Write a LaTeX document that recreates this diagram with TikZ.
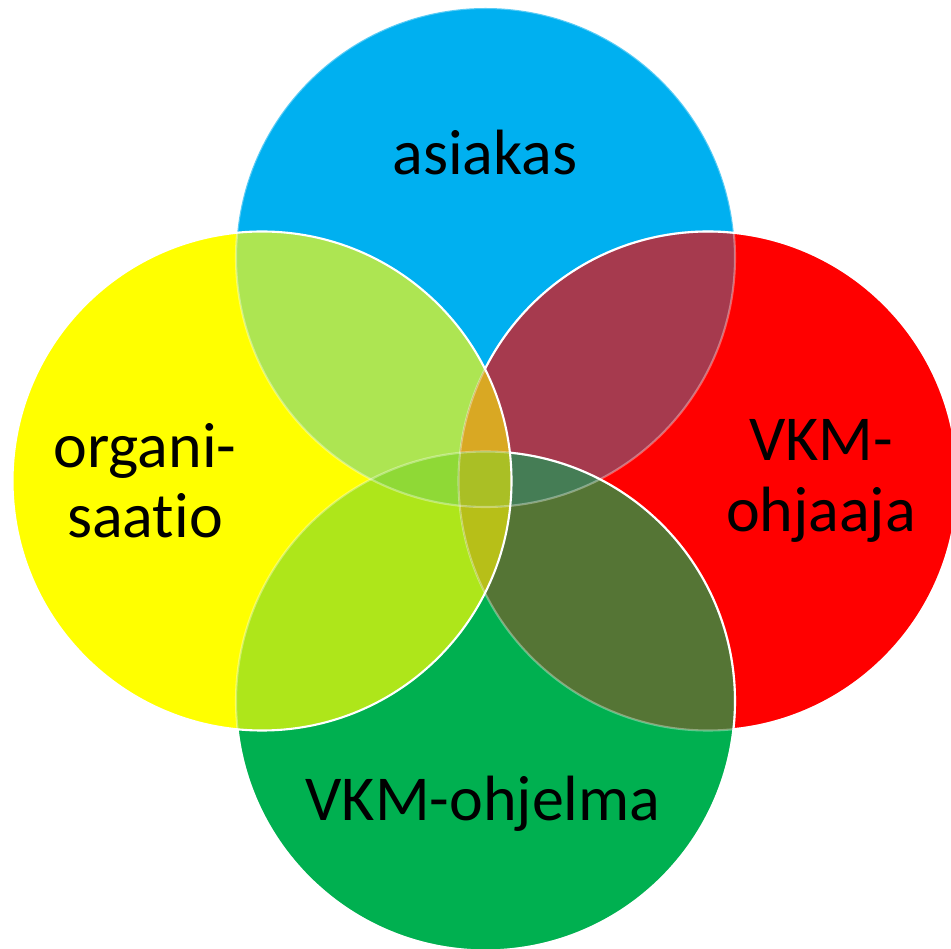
\documentclass[tikz,border=0pt]{standalone}
\usepackage{fontspec}
\setmainfont{Carlito}[Ligatures=NoCommon]
\usepackage{xcolor}

\definecolor{cblue}{HTML}{00B0F0}
\definecolor{cyellow}{HTML}{FFFF00}
\definecolor{cred}{HTML}{FF0000}
\definecolor{cgreen}{HTML}{00B050}
\definecolor{cyb}{HTML}{ADE552}
\definecolor{cbr}{HTML}{A63A4E}
\definecolor{cyg}{HTML}{AEE61A}
\definecolor{crg}{HTML}{557535}
\definecolor{cybr}{HTML}{D9A823}
\definecolor{cybg}{HTML}{8FD936}
\definecolor{cbrg}{HTML}{457D55}
\definecolor{cyrg}{HTML}{B7BF18}
\definecolor{cybrg}{HTML}{AABF25}

% the four circles
\def\cB{(485.5,257.5) circle [radius=249.5]}
\def\cY{(262,481) circle [radius=249.5]}
\def\cR{(708,481) circle [radius=249.5]}
\def\cG{(485.5,701) circle [radius=249.5]}
\def\pageframe{(-20,-20) rectangle (980,980)}

\tikzset{
  ring/.style={draw=white, line width=0.6pt},
  faint ring/.style={ring, draw opacity=0.35},
  lbl/.style={font=\fontsize{18.2}{20}\selectfont, align=center, text=black, inner sep=0pt},
}

\begin{document}
\begin{tikzpicture}[x=0.01cm,y=-0.01cm]
\useasboundingbox (0,0) rectangle (951,949);
\fill[cblue] \cB;
\fill[cred] \cR;
\fill[cgreen] \cG;
\fill[cyellow] \cY;

% two circles
\begin{scope}
  \clip \cY;
  \fill[cyb] \cB;
  \fill[cyg] \cG;
\end{scope}
\begin{scope}
  \clip \cR;
  \fill[cbr] \cB;
  \fill[crg] \cG;
\end{scope}

% three circles
\begin{scope}
  \clip \cY; \clip \cR;
  \fill[cybr] \cB;
  \fill[cyrg] \cG;
\end{scope}
\begin{scope}
  \clip \cB; \clip \cG;
  \fill[cybg] \cY;
  \fill[cbrg] \cR;
\end{scope}

% all four
\begin{scope}
  \clip \cY; \clip \cR; \clip \cB;
  \fill[cybrg] \cG;
\end{scope}

% outlines
\draw[faint ring] \cB;
\draw[faint ring] \cR;
\draw[faint ring] \cG;
\begin{scope}[even odd rule]
  \clip \pageframe \cY;
  \draw[ring] \cG;
  \clip \pageframe \cG;
  \draw[ring] \cR;
\end{scope}
\draw[ring] \cY;

\node[lbl] (asiakas) at (485,153) {asiakas};
\node[lbl] (organisaatio) at (145,481) {organi-\\saatio};
\node[lbl] (ohjaaja) at (821,481) {VKM-\\ohjaaja};
\node[lbl] (ohjelma) at (483,804) {VKM-ohjelma};
\end{tikzpicture}
\end{document}
